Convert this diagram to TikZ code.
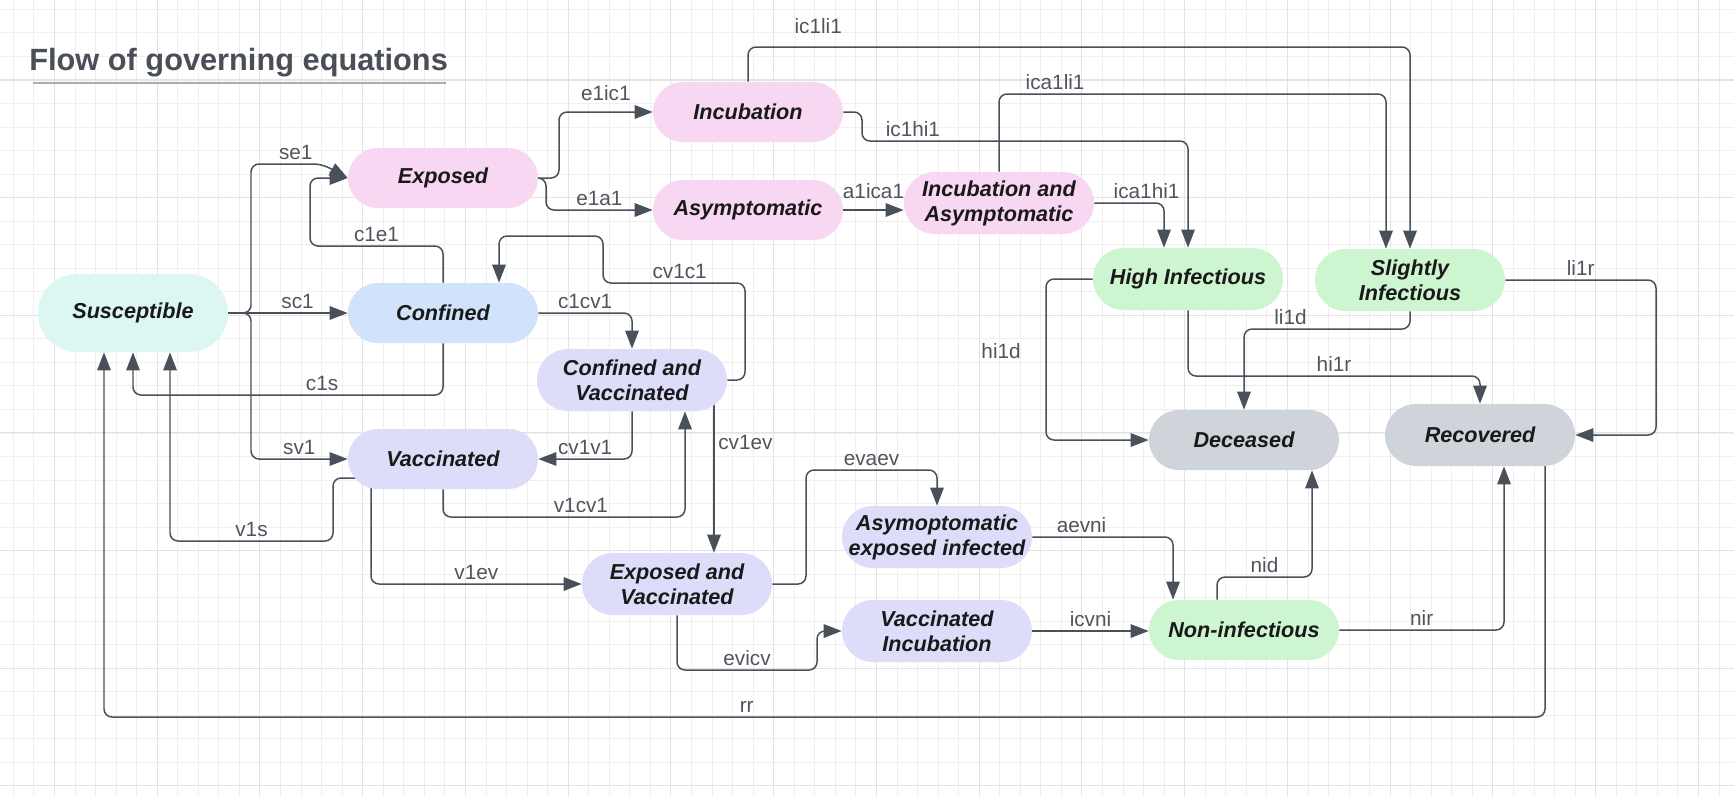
\documentclass[tikz,border=0pt]{standalone}
\usepackage{fontspec}
\setmainfont{Liberation Sans}
\usetikzlibrary{arrows.meta}

\definecolor{linec}{HTML}{4A5059}
\definecolor{labc}{HTML}{50545C}
\definecolor{titlec}{HTML}{4A4E57}
\definecolor{rulec}{HTML}{A9ADB9}
\definecolor{gridminor}{HTML}{EFEFEF}
\definecolor{gridmajor}{HTML}{E3E3E3}
\definecolor{mintc}{HTML}{DCF6F2}
\definecolor{pinkc}{HTML}{F7D7F1}
\definecolor{bluec}{HTML}{D1E2FB}
\definecolor{lavc}{HTML}{DDDCF9}
\definecolor{greenc}{HTML}{CDF5D0}
\definecolor{greyc}{HTML}{CFD3DA}

\newcommand\statefont{\fontsize{12.3}{14.2}\selectfont\bfseries\itshape}
\newcommand\lblfont{\fontsize{11.8}{13}\selectfont}

\pgfdeclarelayer{grid}
\pgfdeclarelayer{edges}
\pgfsetlayers{grid,edges,main}

\tikzset{
  state/.style={rounded corners=0.6cm, minimum width=3.8cm, minimum height=1.2cm,
    inner xsep=2pt, align=center, font=\statefont, text=black!90},
  tall/.style={minimum height=1.24cm, rounded corners=0.62cm},
  flow/.style={draw=linec, line width=0.85pt, rounded corners=0.16cm,
    -{Triangle[length=0.36cm, width=0.27cm]}},
  lbl/.style={font=\lblfont, text=labc, inner sep=2pt},
}

\begin{document}
\begin{tikzpicture}[x=0.02cm, y=-0.02cm]
  \useasboundingbox (0,0) rectangle (1734,796);

  % Background grid
  \begin{pgfonlayer}{grid}
    \fill[white] (0,0) rectangle (1734,796);
    \foreach \i in {0,...,84}
      \draw[gridminor, line width=0.5pt] ({13.3+20.55*\i},0) -- ({13.3+20.55*\i},796);
    \foreach \j in {0,...,33}
      \draw[gridminor, line width=0.5pt] (0,{9.4+23.53*\j}) -- (1734,{9.4+23.53*\j});
    \foreach \i in {0,...,16}
      \draw[gridmajor, line width=0.6pt] ({54.4+102.75*\i},0) -- ({54.4+102.75*\i},796);
    \foreach \j in {0,...,6}
      \draw[gridmajor, line width=0.6pt] (0,{80+117.65*\j}) -- (1734,{80+117.65*\j});
  \end{pgfonlayer}

  % Title
  \node[anchor=base west, inner sep=0pt, text=titlec,
    font=\fontsize{17.5}{20}\selectfont\bfseries] (title) at (29,70) {Flow of governing equations};
  \draw[rulec, line width=1.6pt] (33,83) -- (446,83);

  % States
  \node[state, fill=mintc, minimum height=1.56cm, rounded corners=0.78cm] (sus) at (133,313) {Susceptible};
  \node[state, fill=pinkc] (exp) at (443,178) {Exposed};
  \node[state, fill=bluec] (con) at (443,313) {Confined};
  \node[state, fill=lavc] (vac) at (443,459) {Vaccinated};
  \node[state, fill=pinkc] (inc) at (748,112) {Incubation};
  \node[state, fill=pinkc] (asy) at (748,210) {Asymptomatic};
  \node[state, tall, fill=pinkc] (ia) at (999,203) {Incubation and\\Asymptomatic};
  \node[state, tall, fill=lavc] (cv) at (632,380) {Confined and\\Vaccinated};
  \node[state, tall, fill=lavc] (ev) at (677,584) {Exposed and\\Vaccinated};
  \node[state, tall, fill=lavc] (aei) at (937,537) {Asymoptomatic\\exposed infected};
  \node[state, tall, fill=lavc] (vi) at (937,631) {Vaccinated\\Incubation};
  \node[state, tall, fill=greenc] (hi) at (1188,279) {High Infectious};
  \node[state, tall, fill=greenc] (si) at (1410,280) {Slightly\\Infectious};
  \node[state, fill=greyc] (dec) at (1244,440) {Deceased};
  \node[state, tall, fill=greyc] (rec) at (1480,435) {Recovered};
  \node[state, fill=greenc] (ni) at (1244,630) {Non-infectious};

  \begin{pgfonlayer}{edges}
  % Susceptible out
  \draw[flow] (sus.east) -- (251,313) -- (251,164) -- node[lbl, above, pos=0.63]{se1} (322,164) -- (exp.west);
  \draw[flow] (sus.east) -- node[lbl, above, pos=0.58]{sc1} (con.west);
  \draw[flow] (sus.east) -- (251,313) -- (251,459) -- node[lbl, above]{sv1} (vac.west);

  % back to Susceptible
  \draw[flow] (con.south) -- (443,395) -- node[lbl, above, pos=0.39]{c1s} (133,395) -- (sus.south);
  \draw[flow] (vac.center |- 0,478) -- (333,478) -- (333,541) -- node[lbl, above]{v1s} (170,541) -- (sus.south -| 170,0);
  \draw[flow] (rec.center -| 1545,0) -- (1545,717) -- node[lbl, above, pos=0.554]{rr} (104,717) -- (sus.south -| 104,0);

  % Confined / Vaccinated
  \draw[flow] (con.north) -- (443,246) -- node[lbl, above]{c1e1} (310,246) -- (310,178) -- (exp.west);
  \draw[flow] (con.east) -- node[lbl, above]{c1cv1} (632,313) -- (cv.north);
  \draw[flow] (cv.east) -- (745,380) -- (745,283) -- node[lbl, above, pos=0.46]{cv1c1} (603,283)
    -- (603,236) -- (499,236) -- (con.north -| 499,0);
  \draw[flow] (cv.south) -- (632,459) -- node[lbl, above]{cv1v1} (vac.east);
  \draw[flow] (vac.south) -- (443,517) -- node[lbl, above, pos=0.57]{v1cv1} (685,517) -- (cv.south -| 685,0);
  \draw[flow] (cv.center -| 714,0) -- node[lbl, right, pos=0.36]{cv1ev} (ev.north -| 714,0);
  \draw[flow] (vac.center -| 371,0) -- (371,584) -- node[lbl, above]{v1ev} (ev.west);

  % Exposed on
  \draw[flow] (exp.east) -- (559,178) -- (559,112) -- node[lbl, above=4pt]{e1ic1} (inc.west);
  \draw[flow] (exp.east) -- (546,178) -- (546,210) -- node[lbl, above]{e1a1} (asy.west);
  \draw[flow] (inc.north) -- (748,47) -- node[lbl, above=5pt, pos=0.106]{ic1li1} (1410,47) -- (si.north);
  \draw[flow] (inc.east) -- (862,112) -- (862,141) -- node[lbl, above, pos=0.156]{ic1hi1} (1188,141) -- (hi.north);
  \draw[flow] (asy.east) -- node[lbl, above=4pt]{a1ica1} (asy.east -| ia.west);
  \draw[flow] (ia.north) -- (999,94) -- node[lbl, above, pos=0.145]{ica1li1} (1386,94) -- (si.north -| 1386,0);
  \draw[flow] (ia.east) -- node[lbl, above, pos=0.75]{ica1hi1} (1164,203) -- (hi.north -| 1164,0);

  % Infectious to outcomes
  \draw[flow] (hi.west) -- (1046,279) -- node[lbl, left=12pt, pos=0.45]{hi1d} (1046,440) -- (dec.west);
  \draw[flow] (hi.south) -- (1188,376) -- node[lbl, above]{hi1r} (1480,376) -- (rec.north);
  \draw[flow] (si.south) -- (1410,329) -- node[lbl, above, pos=0.72]{li1d} (1244,329) -- (dec.north);
  \draw[flow] (si.east) -- node[lbl, above]{li1r} (1656,280) -- (1656,435) -- (rec.east);

  % Exposed and vaccinated on
  \draw[flow] (ev.east) -- (806,584) -- (806,470) -- node[lbl, above]{evaev} (937,470) -- (aei.north);
  \draw[flow] (ev.south) -- (677,670) -- node[lbl, above]{evicv} (817,670) -- (817,631) -- (vi.west);
  \draw[flow] (aei.east) -- node[lbl, above, pos=0.35]{aevni} (1173,537) -- (ni.north -| 1173,0);
  \draw[flow] (vi.east) -- node[lbl, above]{icvni} (vi.east -| ni.west);
  \draw[flow] (ni.north -| 1217,0) -- (1217,577) -- node[lbl, above]{nid} (1312,577) -- (dec.south -| 1312,0);
  \draw[flow] (ni.east) -- node[lbl, above]{nir} (1504,630) -- (rec.south -| 1504,0);
  \end{pgfonlayer}
\end{tikzpicture}
\end{document}
